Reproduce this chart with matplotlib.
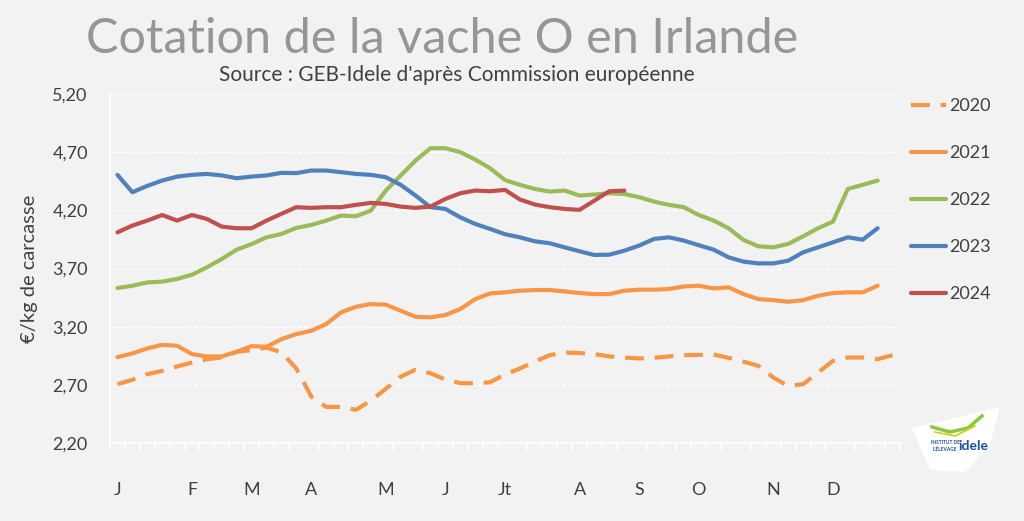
import matplotlib
matplotlib.use("Agg")
import matplotlib.pyplot as plt
from matplotlib.patches import Polygon
import numpy as np

plt.rcParams['font.family'] = ['Lato', 'DejaVu Sans']

# ---- data ----
month_labels = {0: "J", 5: "F", 9: "M", 13: "A", 18: "M", 22: "J", 26: "Jt",
                31: "A", 35: "S", 39: "O", 44: "N", 48: "D"}
n_weeks = 53

y2020 = [2.706, 2.743, 2.792, 2.82, 2.858, 2.892, 2.92, 2.935, 2.984, 2.998, 3.02, 2.98, 2.84,
         2.60, 2.51, 2.51, 2.485, 2.565, 2.665, 2.77, 2.83, 2.80, 2.745, 2.715, 2.712, 2.722,
         2.79, 2.84, 2.90, 2.955, 2.978, 2.973, 2.964, 2.944, 2.935, 2.927, 2.932, 2.944, 2.955,
         2.957, 2.961, 2.932, 2.90, 2.863, 2.763, 2.69, 2.706, 2.806, 2.906, 2.935, 2.935, 2.921, 2.955]
y2021 = [2.938, 2.97, 3.013, 3.044, 3.036, 2.964, 2.944, 2.944, 2.984, 3.033, 3.027, 3.093, 3.136,
         3.165, 3.222, 3.323, 3.371, 3.394, 3.389, 3.337, 3.285, 3.28, 3.30, 3.351, 3.437, 3.486,
         3.495, 3.509, 3.515, 3.515, 3.503, 3.489, 3.48, 3.48, 3.509, 3.518, 3.518, 3.524, 3.546,
         3.552, 3.529, 3.538, 3.48, 3.437, 3.428, 3.414, 3.428, 3.466, 3.489, 3.495, 3.495, 3.552]
y2022 = [3.532, 3.552, 3.58, 3.587, 3.61, 3.647, 3.71, 3.782, 3.862, 3.91, 3.968, 3.997, 4.049,
         4.074, 4.112, 4.155, 4.149, 4.198, 4.37, 4.499, 4.628, 4.734, 4.734, 4.70, 4.637, 4.562,
         4.46, 4.419, 4.384, 4.361, 4.37, 4.327, 4.336, 4.347, 4.341, 4.313, 4.275, 4.247, 4.227,
         4.16, 4.112, 4.046, 3.945, 3.891, 3.882, 3.911, 3.977, 4.046, 4.103, 4.384, 4.419, 4.456]
y2023 = [4.505, 4.356, 4.41, 4.456, 4.49, 4.505, 4.513, 4.50, 4.476, 4.49, 4.50, 4.522, 4.52,
         4.542, 4.542, 4.528, 4.513, 4.505, 4.485, 4.419, 4.327, 4.227, 4.212, 4.14, 4.083, 4.04,
         3.995, 3.968, 3.934, 3.917, 3.882, 3.848, 3.816, 3.819, 3.853, 3.897, 3.954, 3.968, 3.94,
         3.90, 3.862, 3.796, 3.759, 3.744, 3.744, 3.767, 3.839, 3.882, 3.925, 3.968, 3.948, 4.046]
y2024 = [4.011, 4.069, 4.112, 4.16, 4.112, 4.16, 4.126, 4.06, 4.046, 4.046, 4.112, 4.17, 4.227,
         4.221, 4.227, 4.227, 4.247, 4.264, 4.255, 4.232, 4.221, 4.232, 4.298, 4.347, 4.37, 4.364,
         4.376, 4.293, 4.25, 4.227, 4.212, 4.204, 4.284, 4.364, 4.37]

y_ticks = [2.20, 2.70, 3.20, 3.70, 4.20, 4.70, 5.20]

series = [("2020", y2020, "#f79646", "dash"),
          ("2021", y2021, "#f79646", "solid"),
          ("2022", y2022, "#9bbb59", "solid"),
          ("2023", y2023, "#4f81bd", "solid"),
          ("2024", y2024, "#c0504d", "solid")]

BG = "#f2f2f2"
TXT = "#404040"

fig = plt.figure(figsize=(10.24, 5.21), dpi=100, facecolor=BG)
ax = fig.add_axes([110/1024, 1 - 443/521, 790/1024, (443 - 94)/521])
ax.set_facecolor(BG)

handles = []
for name, vals, col, style in series:
    x = np.arange(len(vals))
    if style == "dash":
        ln, = ax.plot(x, vals, color=col, lw=3.0, dashes=(4.5, 2.6),
                      solid_capstyle='butt', dash_capstyle='butt', label=name)
    else:
        ln, = ax.plot(x, vals, color=col, lw=3.0, solid_capstyle='round',
                      solid_joinstyle='round', label=name)
    handles.append(ln)

ax.set_xlim(-0.5, n_weeks - 0.5)
ax.set_ylim(2.2, 5.2)
ax.set_yticks(y_ticks)
ax.set_yticklabels([f"{v:.2f}".replace(".", ",") for v in y_ticks],
                   fontsize=13, color=TXT)
ax.tick_params(axis='y', length=0, pad=16)

# gridlines
for v in y_ticks[1:]:
    ax.axhline(v, color="white", lw=1.0, ls=(0, (3, 2)), zorder=0)

for s in ["top", "right"]:
    ax.spines[s].set_visible(False)
ax.spines["left"].set_color("white")
ax.spines["left"].set_linewidth(1.3)
ax.spines["bottom"].set_color("white")
ax.spines["bottom"].set_linewidth(1.3)

# x ticks at category boundaries
ax.set_xticks(np.arange(-0.5, n_weeks, 1.0))
ax.set_xticklabels([])
ax.tick_params(axis='x', which='major', length=6, width=1.2, color="white", direction='out')
ax.set_xticks(list(month_labels.keys()), minor=True)
ax.set_xticklabels(list(month_labels.values()), minor=True, fontsize=13, color=TXT)
ax.tick_params(axis='x', which='minor', length=0, pad=28)

ax.set_ylabel("€/kg de carcasse", fontsize=14.5, color=TXT, labelpad=10)

leg = fig.legend(handles=handles, loc="upper left", bbox_to_anchor=(895/1024, 1 - 82/521),
                 frameon=False, fontsize=13, labelspacing=1.72, handlelength=1.9,
                 handletextpad=0.2, labelcolor=TXT)

fig.text(442/1024, 1 - 39/521, "Cotation de la vache O en Irlande", fontsize=35,
         color="#969696", ha="center", va="center", fontweight="normal")
fig.text(457/1024, 1 - 75/521, "Source : GEB-Idele d'après Commission européenne",
         fontsize=15, color=TXT, ha="center", va="center")

# logo (decorative)
logo = Polygon([[912/1024, 1 - 428/521], [1000/1024, 1 - 407/521], [990/1024, 1 - 445/521],
                [965/1024, 1 - 472/521], [930/1024, 1 - 470/521]],
               closed=True, transform=fig.transFigure, facecolor="white", edgecolor="none",
               joinstyle='round')
fig.patches.append(logo)
fig.text(945/1024, 1 - 446/521, "INSTITUT DE\nL'ÉLEVAGE", fontsize=3.5, color="#1f4e9c",
         ha="center", va="center", fontweight="bold")
fig.text(973/1024, 1 - 446/521, "idele", fontsize=10, color="#1f4e9c",
         ha="center", va="center", fontweight="bold")
fig.lines.append(plt.Line2D([932/1024, 950/1024, 968/1024, 982/1024],
                            [1 - 427/521, 1 - 432/521, 1 - 428/521, 1 - 416/521],
                            transform=fig.transFigure, color="#8cc63f", lw=2.5))
fig.lines.append(plt.Line2D([935/1024, 955/1024, 975/1024],
                            [1 - 432/521, 1 - 436/521, 1 - 426/521],
                            transform=fig.transFigure, color="#c8d400", lw=1.2))

fig.savefig("out.png", dpi=100, facecolor=BG)
